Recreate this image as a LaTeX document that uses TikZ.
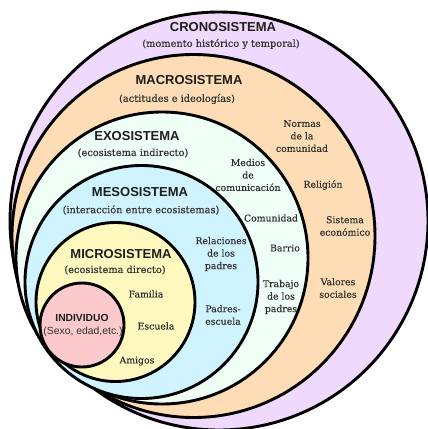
\documentclass[tikz,border=0pt]{standalone}
\usepackage{fontspec}
\setmainfont[FakeBold=0.35]{DejaVu Serif}
\newfontfamily\titlefont{Liberation Sans}
\definecolor{cronocol}{RGB}{239,217,253}
\definecolor{macrocol}{RGB}{254,220,181}
\definecolor{exocol}{RGB}{240,255,245}
\definecolor{mesocol}{RGB}{208,244,255}
\definecolor{microcol}{RGB}{255,249,192}
\definecolor{indivcol}{RGB}{252,202,205}
\definecolor{titlecol}{RGB}{30,30,30}
\definecolor{txtcol}{RGB}{50,50,50}
\begin{document}
\begin{tikzpicture}[x=1pt,y=-1pt,
  ring/.style={draw=black, line width=2.9pt},
  ttl/.style={font=\titlefont\bfseries\fontsize{13}{15}\selectfont, text=titlecol, inner sep=0pt},
  sub/.style={font=\fontsize{9.8}{12}\selectfont, text=txtcol, inner sep=0pt},
  item/.style={font=\fontsize{9.3}{12.5}\selectfont, text=txtcol, align=center, inner sep=0pt},
  sanstxt/.style={font=\titlefont\fontsize{10.4}{12}\selectfont, text=txtcol, inner sep=0pt}
]
\useasboundingbox (0,0) rectangle (428,429);
\fill[white] (0,0) rectangle (428,429);
% rings
\path[ring, fill=cronocol] (219,221) circle (209pt);
\path[ring, fill=macrocol] (193.5,236) circle (181.5pt);
\path[ring, fill=exocol] (162,258) circle (146pt);
\path[ring, fill=mesocol] (141.5,282) circle (116.5pt);
\path[ring, fill=microcol] (115.5,302) circle (79.5pt);
\path[ring, fill=indivcol] (82,325) circle (42pt);
% titles
\node[ttl] (tcrono) at (223,27) {CRONOSISTEMA};
\node[sub] (scrono) at (221,44) {(momento histórico y temporal)};
\node[ttl] (tmacro) at (189,80) {MACROSISTEMA};
\node[sub] (smacro) at (177,99) {(actitudes e ideologías)};
\node[ttl] (texo) at (137,136) {EXOSISTEMA};
\node[sub] (sexo) at (133,153) {(ecosistema indirecto)};
\node[ttl] (tmeso) at (140,192) {MESOSISTEMA};
\node[sub] (smeso) at (141,210) {(interacción entre ecosistemas)};
\node[ttl] (tmicro) at (121,254) {MICROSISTEMA};
\node[sub] (smicro) at (115,270) {(ecosistema directo)};
\node[ttl, font=\titlefont\bfseries\fontsize{10.3}{12}\selectfont] (tind) at (82,318) {INDIVIDUO};
\node[sanstxt] (sind) at (83,332) {(Sexo, edad,etc.)};
% micro items
\node[item] (familia) at (146,294) {Familia};
\node[item] (escuela) at (156,326) {Escuela};
\node[item] (amigos) at (137,361) {Amigos};
% meso items
\node[item] (relaciones) at (221,254) {Relaciones\\de los\\padres};
\node[item] (padresesc) at (223,315) {Padres-\\escuela};
% exo items
\node[item] (medios) at (248,175) {Medios\\de\\comunicación};
\node[item] (comunidad) at (271,218) {Comunidad};
\node[item] (barrio) at (285,248) {Barrio};
\node[item] (trabajo) at (281,297) {Trabajo\\de los\\padres};
% macro items
\node[item] (normas) at (302,136) {Normas\\de la\\comunidad};
\node[item] (religion) at (323,185) {Religión};
\node[item] (sistema) at (345,226) {Sistema\\económico};
\node[item] (valores) at (338,288) {Valores\\sociales};
\end{tikzpicture}
\end{document}
